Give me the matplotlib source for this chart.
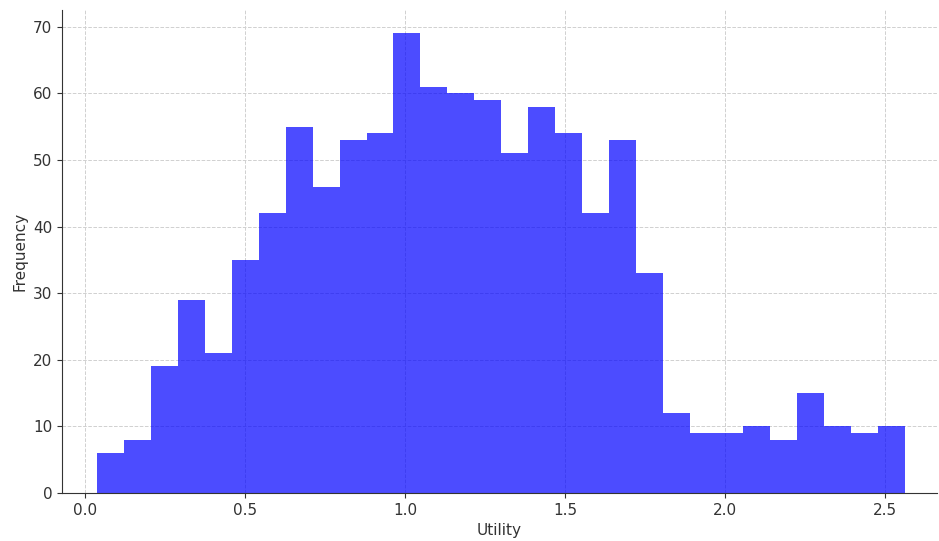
import numpy as np
import matplotlib
matplotlib.use("Agg")
import matplotlib.pyplot as plt

counts = [6, 8, 19, 29, 21, 35, 42, 55, 46, 53, 54, 69, 61, 60, 59, 51,
          58, 54, 42, 53, 33, 12, 9, 9, 10, 8, 15, 10, 9, 10]
bin_start = 0.0385
bin_end = 2.5625
edges = np.linspace(bin_start, bin_end, len(counts) + 1)

fig = plt.figure(figsize=(9.39, 5.41), dpi=100)
ax = fig.add_axes([62/939, 1 - 493/541, (937-62)/939, (493-10)/541])
ax.bar(edges[:-1], counts, width=np.diff(edges), align='edge',
       color='blue', alpha=0.7, zorder=2)
ax.grid(True, linestyle='--', color='#d0d0d0', linewidth=0.7, zorder=0)
ax.set_axisbelow(True)
ax.spines['top'].set_visible(False)
ax.spines['right'].set_visible(False)
for s in ('left', 'bottom'):
    ax.spines[s].set_color('#333333')
ax.set_xlim(-0.072, 2.6625)
ax.set_ylim(0, 72.5)
ax.set_xlabel('Utility', fontsize=11, color='#333333')
ax.set_ylabel('Frequency', fontsize=11, color='#333333')
ax.tick_params(labelsize=11, colors='#333333')
ax.set_xticks([0.0, 0.5, 1.0, 1.5, 2.0, 2.5])
ax.set_yticks(range(0, 71, 10))
fig.savefig('out.png', dpi=100)
